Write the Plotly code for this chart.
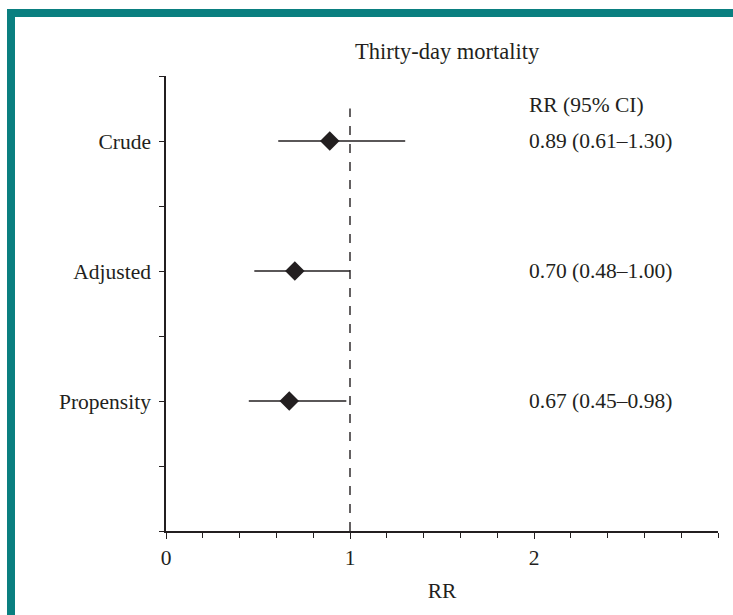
import plotly.graph_objects as go

categories = ["Crude", "Adjusted", "Propensity"]
y_pos = [3, 2, 1]
rr = [0.89, 0.70, 0.67]
ci_low = [0.61, 0.48, 0.45]
ci_high = [1.30, 1.00, 0.98]
ci_text = ["0.89 (0.61\u20131.30)", "0.70 (0.48\u20131.00)", "0.67 (0.45\u20130.98)"]
x_ticks = [0, 1, 2]
title_text = "Thirty-day mortality"
header_text = "RR (95% CI)"

FONT = "Liberation Serif"
FS = 21.5
INK = "#231f20"
TEAL = "#0a7f80"

fig = go.Figure()
fig.add_trace(go.Scatter(
    x=rr, y=y_pos, mode="markers",
    marker=dict(symbol="diamond", size=15, color=INK),
    error_x=dict(type="data", symmetric=False,
                 array=[h - r for h, r in zip(ci_high, rr)],
                 arrayminus=[r - l for r, l in zip(rr, ci_low)],
                 color=INK, thickness=1.6, width=0),
    showlegend=False, hoverinfo="skip",
))

# reference line at RR = 1
fig.add_shape(type="line", x0=1, x1=1, y0=0, y1=3.25, xref="x", yref="y",
              line=dict(color=INK, width=1.4, dash="dash"))

annotations = [dict(x=1.96, y=3.28, xref="x", yref="y", text=header_text,
                    showarrow=False, xanchor="left", yanchor="middle",
                    font=dict(family=FONT, size=FS, color=INK))]
for t, yv in zip(ci_text, y_pos):
    annotations.append(dict(x=1.96, y=yv, xref="x", yref="y", text=t,
                            showarrow=False, xanchor="left", yanchor="middle",
                            font=dict(family=FONT, size=FS, color=INK)))
annotations.append(dict(x=(447 - 166) / 552, y=(531 - 52) / 455, xref="paper", yref="paper",
                        text=title_text, showarrow=False, xanchor="center", yanchor="middle",
                        font=dict(family=FONT, size=FS + 1, color=INK)))
fig.update_layout(annotations=annotations)

# teal frame (left and top bars)
def px_x(p):
    return (p - 166) / 552

def px_y(p):
    return (531 - p) / 455

fig.add_shape(type="rect", xref="paper", yref="paper",
              x0=px_x(7), x1=px_x(15), y0=px_y(640), y1=px_y(9),
              fillcolor=TEAL, line=dict(width=0), layer="above")
fig.add_shape(type="rect", xref="paper", yref="paper",
              x0=px_x(7), x1=px_x(760), y0=px_y(17), y1=px_y(9),
              fillcolor=TEAL, line=dict(width=0), layer="above")

fig.update_xaxes(
    range=[0, 3], tickvals=x_ticks, ticktext=[str(v) for v in x_ticks],
    showline=True, linecolor=INK, linewidth=1.5, mirror=False,
    ticks="outside", ticklen=6, tickwidth=1.3, tickcolor=INK,
    minor=dict(dtick=0.2, tick0=0, ticks="outside", ticklen=5, tickwidth=1.3, tickcolor=INK),
    showgrid=False, zeroline=False,
    tickfont=dict(family=FONT, size=FS, color=INK),
    title=dict(text="RR", font=dict(family=FONT, size=FS, color=INK), standoff=14),
)
fig.update_yaxes(
    range=[0, 3.5], tickvals=y_pos, ticktext=categories,
    showline=True, linecolor=INK, linewidth=1.5,
    ticks="outside", ticklen=5, tickwidth=1.3, tickcolor=INK,
    minor=dict(dtick=0.5, tick0=0, ticks="outside", ticklen=5, tickwidth=1.3, tickcolor=INK),
    showgrid=False, zeroline=False, ticklabelstandoff=4,
    tickfont=dict(family=FONT, size=FS, color=INK),
)

fig.update_layout(
    width=733, height=615,
    margin=dict(l=166, r=15, t=76, b=84),
    plot_bgcolor="white", paper_bgcolor="white",
)

fig.write_html("out.html")
